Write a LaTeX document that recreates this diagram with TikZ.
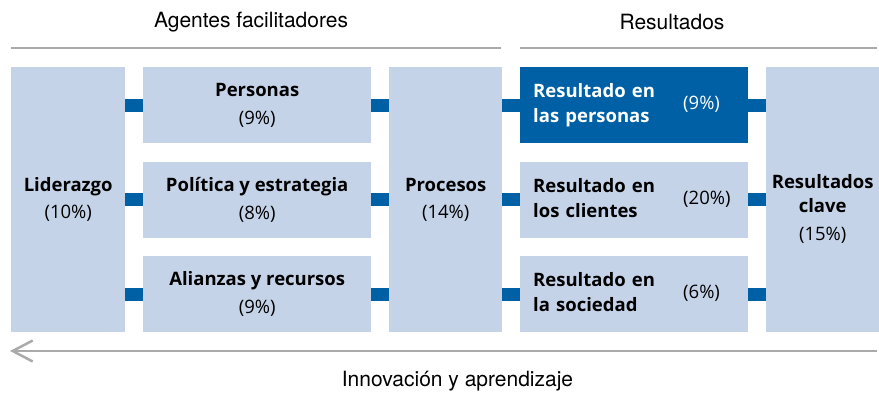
\documentclass[tikz,border=0pt]{standalone}
\usepackage{fontspec}
\setmainfont{Open Sans}
\newfontfamily\headfont{TeX Gyre Heros}
\usetikzlibrary{math,arrows.meta}
\definecolor{boxblue}{RGB}{196,211,232}
\definecolor{darkblue}{RGB}{0,96,165}
\definecolor{rulegray}{RGB}{170,170,170}

\begin{document}
\begin{tikzpicture}[x=1pt, y=-1pt,
  box/.style={fill=boxblue, anchor=north west, inner sep=0pt, align=center,
    font=\fontsize{18.5}{22}\selectfont},
  resbox/.style={box, align=left, inner xsep=13pt, text width=202pt,
    minimum height=76pt, font=\fontsize{18.5}{25}\selectfont},
  link/.style={darkblue, line width=13pt},
  rule/.style={rulegray, line width=2.5pt},
  head/.style={font=\headfont\fontsize{21}{24}\selectfont}]
  \tikzmath{%
    \rowa = 67; \rowb = 161.5; \rowc = 256; \rowh = 76; \full = 265;
  }
  \useasboundingbox (0,0) rectangle (879,393);

  % columns
  \node[box, minimum width=114pt, minimum height=\full] (lid) at (11,\rowa)
    {\textbf{Liderazgo}\\[5pt](10\%)};
  \node[box, minimum width=228pt, minimum height=\rowh] (pers) at (143,\rowa)
    {\textbf{Personas}\\[6pt](9\%)};
  \node[box, minimum width=228pt, minimum height=\rowh] (pol) at (143,\rowb)
    {\textbf{Política y estrategia}\\[6pt](8\%)};
  \node[box, minimum width=228pt, minimum height=\rowh] (ali) at (143,\rowc)
    {\textbf{Alianzas y recursos}\\[6pt](9\%)};
  \node[box, minimum width=113pt, minimum height=\full] (proc) at (389,\rowa)
    {\textbf{Procesos}\\[5pt](14\%)};
  \node[resbox, fill=darkblue, text=white] (rpers) at (520,\rowa)
    {\makebox[150pt][l]{\bfseries\begin{tabular}[c]{@{}l@{}}Resultado en\\las personas\end{tabular}}(9\%)};
  \node[resbox] (rcli) at (520,\rowb)
    {\makebox[150pt][l]{\bfseries\begin{tabular}[c]{@{}l@{}}Resultado en\\los clientes\end{tabular}}(20\%)};
  \node[resbox] (rsoc) at (520,\rowc)
    {\makebox[150pt][l]{\bfseries\begin{tabular}[c]{@{}l@{}}Resultado en\\la sociedad\end{tabular}}(6\%)};
  \node[box, minimum width=113pt, minimum height=\full] (key) at (766,\rowa)
    {\rule{0pt}{32pt}\textbf{Resultados}\\[2pt]\textbf{clave}\\[6pt](15\%)};

  % links
  \foreach \b in {pers,pol,ali}{
    \draw[link] (\b.west -| lid.east) -- (\b.west);
    \draw[link] (\b.east) -- (\b.east -| proc.west);
  }
  \foreach \b in {rpers,rcli,rsoc}{
    \draw[link] (\b.west -| proc.east) -- (\b.west);
    \draw[link] (\b.east) -- (\b.east -| key.west);
  }

  % headings and rules
  \node[head] (agents) at (251,22) {Agentes facilitadores};
  \node[head] (results) at (672,22) {Resultados};
  \draw[rule] (11,48) -- (501,48);
  \draw[rule] (520,48) -- (877,48);
  \draw[rule, -{Straight Barb[length=20pt, width=21pt]}] (877,351) -- (10,351);
  \node[head] (innov) at (457.5,381) {Innovación y aprendizaje};
\end{tikzpicture}
\end{document}
